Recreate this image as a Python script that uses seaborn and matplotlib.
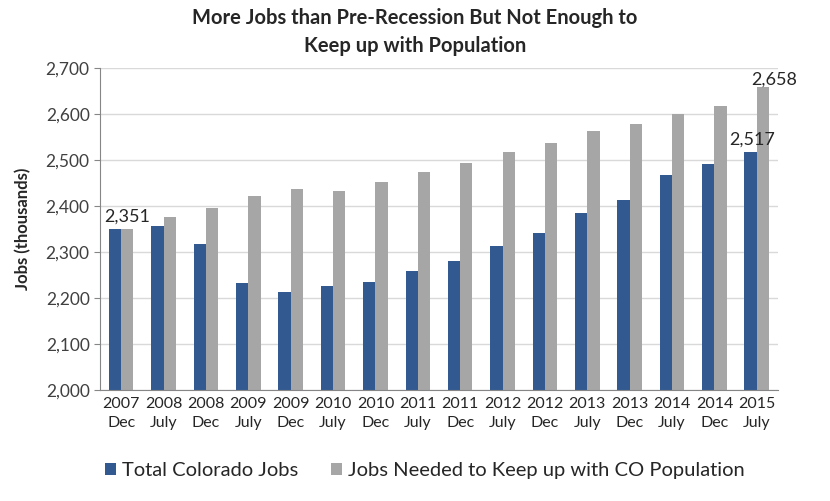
import numpy as np
import pandas as pd
import matplotlib
matplotlib.use("Agg")
import matplotlib.pyplot as plt
import seaborn as sns
from matplotlib.patches import Patch

periods = ["2007\nDec", "2008\nJuly", "2008\nDec", "2009\nJuly", "2009\nDec", "2010\nJuly",
           "2010\nDec", "2011\nJuly", "2011\nDec", "2012\nJuly", "2012\nDec", "2013\nJuly",
           "2013\nDec", "2014\nJuly", "2014\nDec", "2015\nJuly"]
total_jobs = [2351, 2357, 2318, 2233, 2214, 2227, 2234, 2259, 2280, 2314, 2342, 2385,
              2412, 2467, 2491, 2517]
jobs_needed = [2351, 2377, 2396, 2422, 2437, 2433, 2452, 2474, 2493, 2517, 2537, 2564,
               2579, 2601, 2617, 2658]
series_names = ["Total Colorado Jobs", "Jobs Needed to Keep up with CO Population"]
y_ticks = [2000, 2100, 2200, 2300, 2400, 2500, 2600, 2700]

sns.set_style("white")
plt.rcParams['font.family'] = ['Lato', 'DejaVu Sans']

df = pd.DataFrame({
    "period": periods * 2,
    "jobs": total_jobs + jobs_needed,
    "series": [series_names[0]] * len(periods) + [series_names[1]] * len(periods),
})

colors = {series_names[0]: "#325a90", series_names[1]: "#a6a6a6"}

fig = plt.figure(figsize=(8.3, 5.01), dpi=100)
ax = fig.add_axes([0.1205, 0.2216, 0.8168, 0.6427])

sns.barplot(data=df, x="period", y="jobs", hue="series", hue_order=series_names,
            palette=colors, width=0.58, ax=ax, legend=False, saturation=1,
            linewidth=0, edgecolor="none")

ax.set_ylim(2000, 2700)
ax.set_xlim(-0.5, len(periods) - 0.5)
ax.set_yticks(y_ticks)
ax.set_yticklabels([f"{v:,}" for v in y_ticks], fontsize=12.5, color="#404040")
ax.yaxis.grid(True, color="#d9d9d9", linewidth=1)
ax.set_axisbelow(True)

# ticks between categories
ax.set_xticks(np.arange(len(periods)))
ax.set_xticklabels(periods, fontsize=11.5, color="#262626", linespacing=1.45)
ax.tick_params(axis="x", length=0, pad=5)
ax.set_xticks(np.arange(len(periods) + 1) - 0.5, minor=True)
ax.tick_params(axis="x", which="minor", length=5, color="#868686", direction="out")
ax.tick_params(axis="y", length=4, color="#868686", direction="out", left=True)

for side in ["top", "right"]:
    ax.spines[side].set_visible(False)
for side in ["left", "bottom"]:
    ax.spines[side].set_color("#868686")

ax.set_xlabel("")
ax.set_ylabel("Jobs (thousands)", fontsize=12, fontweight="bold", labelpad=10)

# data labels
ax.text(0.15, total_jobs[0] + 8, f"{total_jobs[0]:,}", ha="center", va="bottom",
        fontsize=13, color="#262626")
ax.text(15 - 0.1, total_jobs[-1] + 10, f"{total_jobs[-1]:,}", ha="center", va="bottom",
        fontsize=13, color="#262626")
ax.text(15 + 0.4, jobs_needed[-1] + 0, f"{jobs_needed[-1]:,}", ha="center", va="bottom",
        fontsize=13, color="#262626")

fig.suptitle("More Jobs than Pre-Recession But Not Enough to\nKeep up with Population",
             x=0.5, y=0.985, fontsize=14.5, fontweight="bold", linespacing=1.5)

handles = [Patch(facecolor=colors[n], edgecolor="none") for n in series_names]
fig.legend(handles, series_names, loc="center left", bbox_to_anchor=(0.105, 0.06),
           ncol=2, frameon=False, fontsize=14.5, handlelength=0.55, handleheight=0.55,
           handletextpad=0.3, columnspacing=1.6)

fig.savefig("out.png", dpi=100)
